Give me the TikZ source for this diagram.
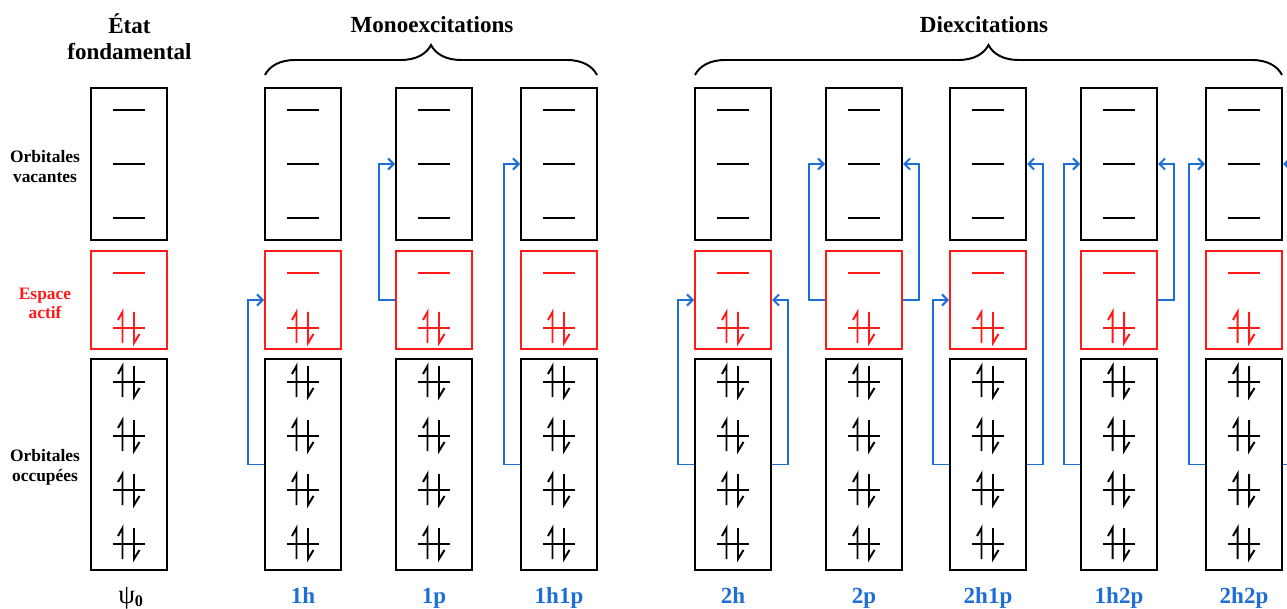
\documentclass[tikz,border=0pt]{standalone}
\usepackage{fontspec}
\setmainfont{Liberation Serif}
\definecolor{excblue}{RGB}{30, 110, 215}
\definecolor{activered}{RGB}{255, 25, 25}
\usetikzlibrary{
    arrows.meta,
    decorations.pathreplacing
}

\tikzset{
    orbbox/.style={draw, line width=1.4pt, minimum width=1.9cm, inner sep=0pt},
    vacbox/.style={orbbox, minimum height=3.8cm},
    actbox/.style={orbbox, draw=activered, minimum height=2.45cm},
    occbox/.style={orbbox, minimum height=5.275cm},
    excite/.style={draw=excblue, line width=1.4pt, -{Straight Barb[length=4pt,width=8pt]}},
    bigtext/.style={font=\fontsize{16.4}{19.1}\selectfont\bfseries, align=center},
    sidetext/.style={font=\fontsize{12.4}{14.2}\selectfont\bfseries, align=center},
    conftext/.style={bigtext, text=excblue},
    level/.pic={\draw[line width=1.4pt] (-16,0) -- (16,0);},
    epair/.pic={
        \draw[line width=1.4pt] (-16,0) -- (16,0);
        \draw[line width=1.4pt] (-6.5,15) -- (-6.5,-16) -- (-11,-8);
        \draw[line width=1.4pt] (5,-16) -- (5,15) -- (10.5,6);
    }
}

\begin{document}
\begin{tikzpicture}[x=0.025cm, y=-0.025cm]
    \clip (0,0) rectangle (1287,609);

    % Determinants: vacant, active and occupied blocks
    \foreach \cx/\nm in {129/gs, 303/h1, 434/p1, 559/hp, 733/hh,
                         864/pp, 988/hhp, 1119/hpp, 1244/hhpp} {
        \node[vacbox] (vac-\nm) at (\cx,164) {};
        \node[actbox] (act-\nm) at (\cx,300) {};
        \node[occbox] (occ-\nm) at (\cx,464.5) {};
        \foreach \ly in {110,164,218}
            \pic at (\cx,\ly) {level};
        \pic[color=activered] at (\cx,273) {level};
        \pic[color=activered] at (\cx,328) {epair};
        \foreach \ly in {382,436,490,544}
            \pic at (\cx,\ly) {epair};
    }

    % Row labels
    \node[sidetext, anchor=base] (lab-vac) at (45,182.7) {Orbitales\\vacantes};
    \node[sidetext, anchor=base, text=activered] (lab-act) at (45,319) {Espace\\actif};
    \node[sidetext, anchor=base] (lab-occ) at (45,481.7) {Orbitales\\occup\'ees};

    % Headers
    \node[bigtext, anchor=base] (head-gs) at (129.5,60) {\'Etat\\fondamental};
    \node[bigtext, anchor=base] (head-mono) at (432,33) {Monoexcitations};
    \node[bigtext, anchor=base] (head-di) at (984,33) {Diexcitations};
    \draw[line width=1.4pt, decorate, decoration={brace, amplitude=0.75cm}]
        (265,75) -- (597,75);
    \draw[line width=1.4pt, decorate, decoration={brace, amplitude=0.75cm}]
        (695,75) -- (1282,75);

    % Configuration names
    \node[bigtext, anchor=base] (name-gs) at (131,603)
        {{\fontsize{19}{20}\selectfont\mdseries ψ}\textsubscript{0}};
    \node[conftext, anchor=base] (name-h1) at (303,603) {1h};
    \node[conftext, anchor=base] (name-p1) at (434,603) {1p};
    \node[conftext, anchor=base] (name-hp) at (559,603) {1h1p};
    \node[conftext, anchor=base] (name-hh) at (733,603) {2h};
    \node[conftext, anchor=base] (name-pp) at (864,603) {2p};
    \node[conftext, anchor=base] (name-hhp) at (988,603) {2h1p};
    \node[conftext, anchor=base] (name-hpp) at (1119,603) {1h2p};
    \node[conftext, anchor=base] (name-hhpp) at (1244,603) {2h2p};

    % 1h
    \draw[excite] (occ-h1.west) -- ++(-16,0) |- (act-h1.west);
    % 1p
    \draw[excite] (act-p1.west) -- ++(-16,0) |- (vac-p1.west);
    % 1h1p
    \draw[excite] (occ-hp.west) -- ++(-16,0) |- (vac-hp.west);
    % 2h
    \draw[excite] (occ-hh.west) -- ++(-16,0) |- (act-hh.west);
    \draw[excite] (occ-hh.east) -- ++(16,0) |- (act-hh.east);
    % 2p
    \draw[excite] (act-pp.west) -- ++(-16,0) |- (vac-pp.west);
    \draw[excite] (act-pp.east) -- ++(16,0) |- (vac-pp.east);
    % 2h1p
    \draw[excite] (occ-hhp.west) -- ++(-16,0) |- (act-hhp.west);
    \draw[excite] (occ-hhp.east) -- ++(16,0) |- (vac-hhp.east);
    % 1h2p
    \draw[excite] (occ-hpp.west) -- ++(-16,0) |- (vac-hpp.west);
    \draw[excite] (act-hpp.east) -- ++(16,0) |- (vac-hpp.east);
    % 2h2p
    \draw[excite] (occ-hhpp.west) -- ++(-16,0) |- (vac-hhpp.west);
    \draw[excite] (occ-hhpp.east) -- ++(16,0) |- (vac-hhpp.east);
\end{tikzpicture}
\end{document}
